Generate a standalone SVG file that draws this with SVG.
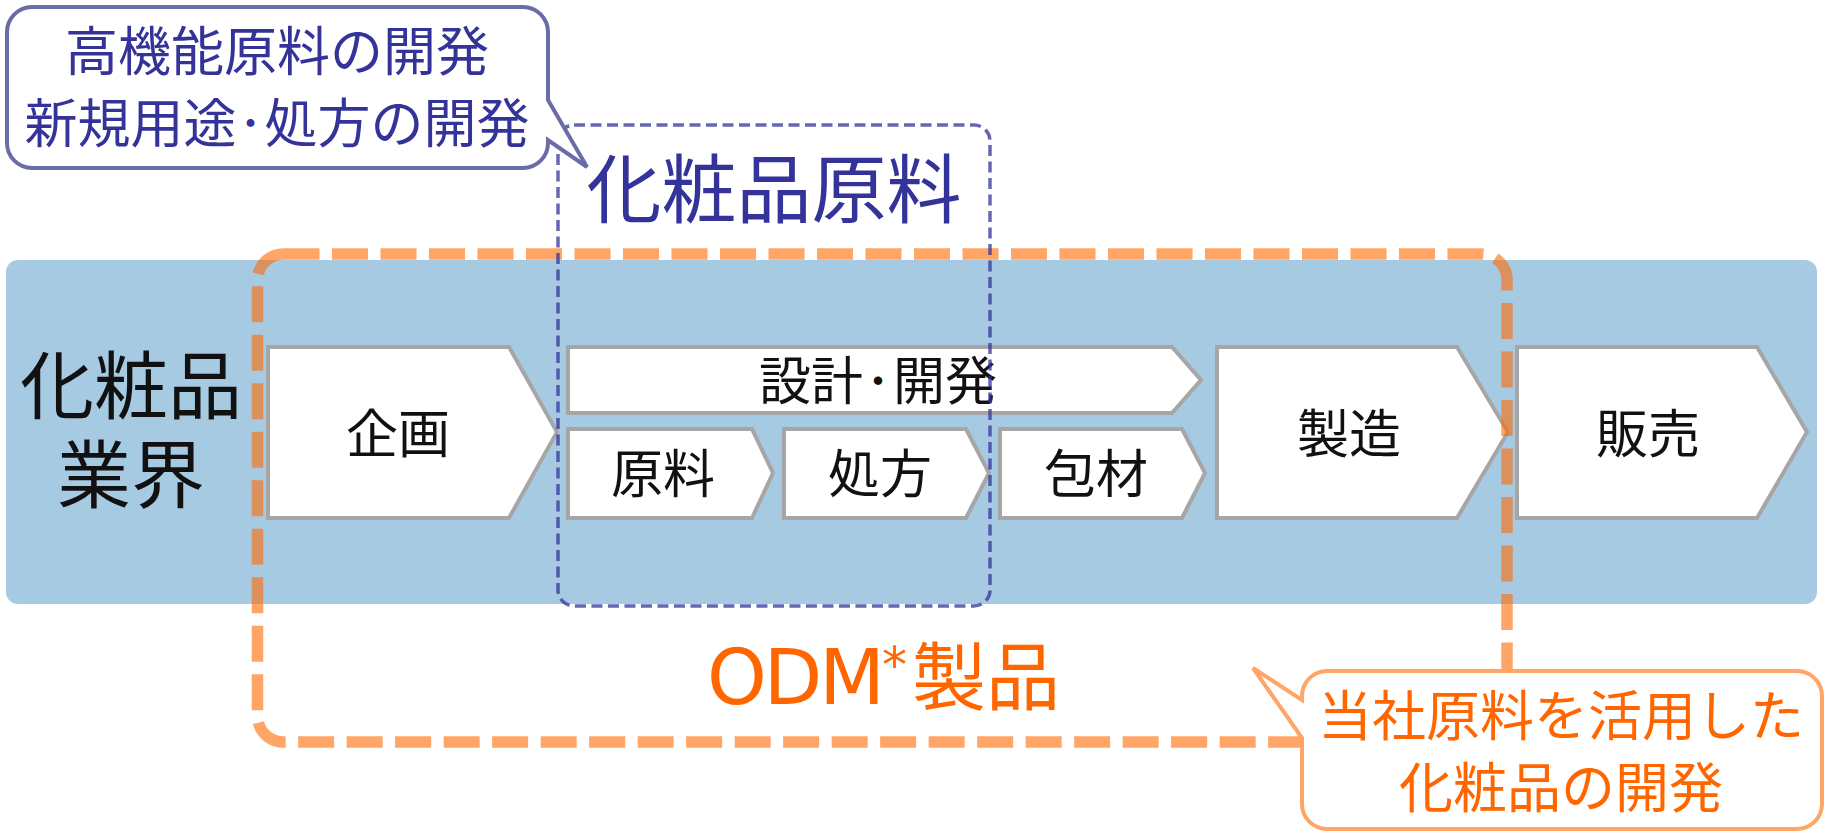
<svg xmlns="http://www.w3.org/2000/svg" width="1829" height="833" viewBox="0 0 1829 833">
<style>
.cjk{font-family:"Noto Sans CJK JP","Noto Sans",sans-serif;}
.node path{fill:#ffffff;stroke:#A6A6A6;stroke-width:4;stroke-linejoin:miter;}
.node text{font-family:"Noto Sans CJK JP","Noto Sans",sans-serif;font-size:52px;fill:#111111;text-anchor:middle;}
.blue{fill:#333399;}
.orange{fill:#FF6600;}
.dot{font-weight:900;}
</style>
<rect id="band" x="6" y="260" width="1811" height="344" rx="12" fill="#A7CAE3"/>
<g id="industry-label">
<text class="cjk" font-size="74" fill="#111111" text-anchor="middle"><tspan x="131" y="413">化粧品</tspan><tspan x="131" y="502">業界</tspan></text>
</g>
<g id="node-kikaku" class="node"><path d="M268,347 L509,347 L557,432 L509,518 L268,518 Z"/><text x="398" y="453">企画</text></g>
<g id="node-sekkei" class="node"><path d="M568,347 L1172,347 L1201,380 L1172,413 L568,413 Z"/><text x="878" y="400">設計<tspan class="dot" font-size="30" dy="-8.4">・</tspan><tspan dy="8.4">開発</tspan></text></g>
<g id="node-genryo" class="node"><path d="M568,429 L752,429 L773,473 L752,518 L568,518 Z"/><text x="663" y="493">原料</text></g>
<g id="node-shoho" class="node"><path d="M784,429 L966,429 L989,473 L966,518 L784,518 Z"/><text x="880" y="493">処方</text></g>
<g id="node-hozai" class="node"><path d="M1000,429 L1182,429 L1205,473 L1182,518 L1000,518 Z"/><text x="1096" y="493">包材</text></g>
<g id="node-seizo" class="node"><path d="M1217,347 L1457,347 L1508,432 L1457,518 L1217,518 Z"/><text x="1349" y="453">製造</text></g>
<g id="node-hanbai" class="node"><path d="M1517,347 L1757,347 L1807,432 L1757,518 L1517,518 Z"/><text x="1648" y="453">販売</text></g>
<g id="connectors">
<rect id="odm-frame" x="257.5" y="254" width="1249.5" height="488" rx="26" fill="none" stroke="#FF6900" stroke-opacity="0.6" stroke-width="11.5" stroke-dasharray="36 12.5"/>
<rect id="material-frame" x="558" y="125" width="432" height="481" rx="16" fill="none" stroke="#333399" stroke-opacity="0.75" stroke-width="3.5" stroke-dasharray="11 5.5"/>
</g>
<g id="label-material">
<text class="cjk blue" x="774" y="217" font-size="75" text-anchor="middle">化粧品原料</text>
</g>
<g id="label-odm">
<text x="707" y="704" class="orange"><tspan font-family="'DejaVu Sans',sans-serif" font-size="76" letter-spacing="-3">ODM</tspan><tspan font-family="'DejaVu Sans',sans-serif" font-size="50" dy="-22">*</tspan><tspan class="cjk" x="912" dy="22" font-size="74">製品</tspan></text>
</g>
<g id="callout-material">
<path d="M32,7 H523 A25,25 0 0 1 548,32 V100 L587,167 L548,140 V143 A25,25 0 0 1 523,168 H32 A25,25 0 0 1 7,143 V32 A25,25 0 0 1 32,7 Z" fill="#ffffff" stroke="#6B6BA7" stroke-width="4" stroke-linejoin="miter"/>
<text class="cjk blue" font-size="53" text-anchor="middle"><tspan x="277" y="71">高機能原料の開発</tspan></text>
<text class="cjk blue" font-size="53" text-anchor="middle" x="277" y="143">新規用途<tspan class="dot" font-size="28" dy="-9.5">・</tspan><tspan dy="9.5">処方の開発</tspan></text>
</g>
<g id="callout-odm">
<path d="M1327,671 H1797 A25,25 0 0 1 1822,696 V804 A25,25 0 0 1 1797,829 H1327 A25,25 0 0 1 1302,804 V738 L1253,668 L1302,700 V696 A25,25 0 0 1 1327,671 Z" fill="#ffffff" stroke="#FFA566" stroke-width="4" stroke-linejoin="miter"/>
<text class="cjk orange" font-size="54" text-anchor="middle"><tspan x="1561" y="736">当社原料を活用した</tspan><tspan x="1561" y="808">化粧品の開発</tspan></text>
</g>
</svg>
